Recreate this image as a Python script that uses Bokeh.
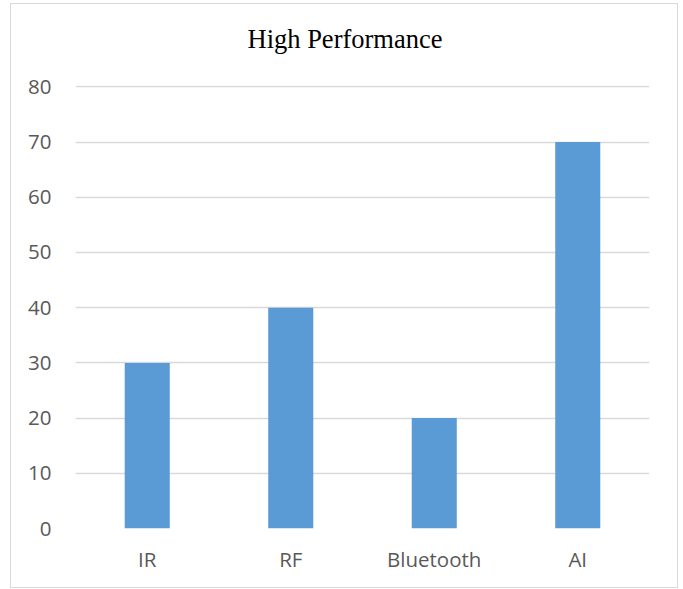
from bokeh.plotting import figure
from bokeh.models import ColumnDataSource, Range1d, FixedTicker, Title
from bokeh.embed import file_html
from bokeh.resources import INLINE

categories = ["IR", "RF", "Bluetooth", "AI"]
values = [30, 40, 20, 70]
y_ticks = [0, 10, 20, 30, 40, 50, 60, 70, 80]
title_text = "High Performance"

source = ColumnDataSource(data=dict(cat=categories, val=values))

p = figure(
    x_range=categories,
    y_range=Range1d(0, 80.25),
    width=668,
    height=585,
    output_backend="svg",
    toolbar_location=None,
    min_border_left=64,
    min_border_right=30,
    min_border_top=81,
    min_border_bottom=61,
)
p.styles = {"border": "1px solid #d9d9d9", "box-sizing": "border-box",
            "margin-left": "10px", "margin-top": "3px"}

# spacer between the title and the plot area
spacer = Title(text=" ", text_font="Liberation Serif", text_font_size="26.5px",
               standoff=0)
p.add_layout(spacer, "above")

t = Title(text=title_text, align="left", offset=172, text_font="Liberation Serif",
          text_font_size="26.5px", text_font_style="normal", text_color="#000000",
          standoff=0)
p.add_layout(t, "above")

p.vbar(x="cat", top="val", width=0.314, source=source,
       fill_color="#5B9BD5", line_color=None)

p.outline_line_color = None
p.background_fill_color = "white"
p.border_fill_color = "white"

p.xgrid.grid_line_color = None
p.ygrid.grid_line_color = "#d9d9d9"
p.ygrid.grid_line_width = 1.3
p.yaxis.ticker = FixedTicker(ticks=y_ticks)

for ax in (p.xaxis[0], p.yaxis[0]):
    ax.axis_line_color = None
    ax.major_tick_line_color = None
    ax.minor_tick_line_color = None
    ax.major_label_text_font = "Open Sans"
    ax.major_label_text_font_size = "20.5px"
    ax.major_label_text_color = "#595959"

p.yaxis.major_label_standoff = 18
p.xaxis.major_label_standoff = 10
p.x_range.range_padding = 0.0

open("out.html", "w").write(file_html(p, INLINE))
